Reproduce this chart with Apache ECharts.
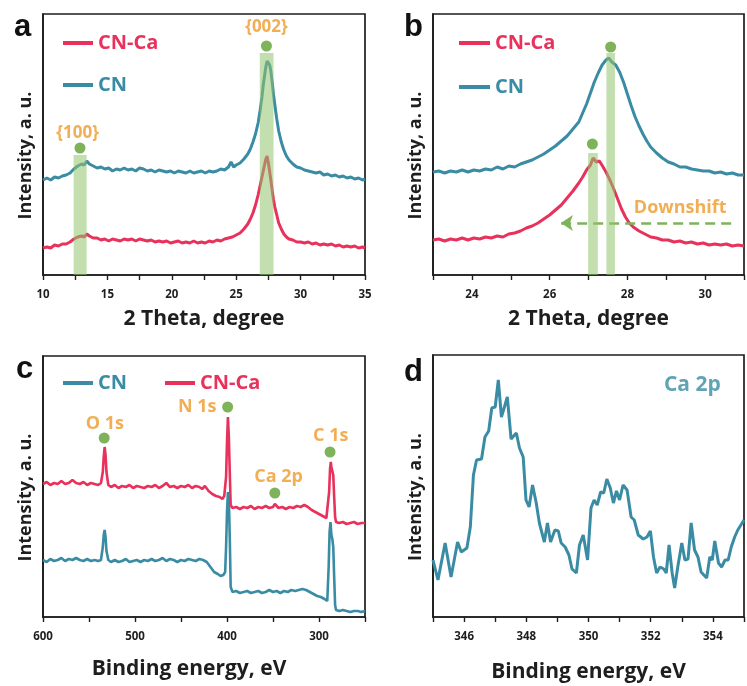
<!DOCTYPE html>
<html><head><meta charset="utf-8">
<script src="https://cdn.jsdelivr.net/npm/echarts@6/dist/echarts.min.js"></script>
<style>html,body{margin:0;padding:0;background:#fff}#c{width:747px;height:686px}</style>
</head><body><div id="c"></div>
<script>
// ---------- DATA ----------
// Panel a: XRD, 2 Theta (degree) vs intensity (a.u.)
const aCN = [[10.0,95],[10.3,97],[10.6,95],[10.9,98],[11.2,97],[11.5,99],[11.8,100],[12.1,102],[12.4,106],[12.7,109],[13.0,111],[13.2,110],[13.4,114],[13.6,111],[13.9,109],[14.2,107],[14.5,108],[14.8,106],[15.1,107],[15.4,104],[15.7,106],[16.0,105],[16.3,107],[16.6,105],[16.9,106],[17.2,104],[17.5,107],[17.8,106],[18.1,104],[18.4,105],[18.7,103],[19.0,105],[19.3,104],[19.6,103],[19.9,104],[20.2,102],[20.5,104],[20.8,103],[21.1,102],[21.4,104],[21.7,102],[22.0,103],[22.3,104],[22.6,102],[22.9,104],[23.2,103],[23.5,104],[23.8,106],[24.1,105],[24.4,108],[24.6,113],[24.8,108],[25.0,110],[25.3,112],[25.6,116],[25.9,121],[26.1,126],[26.3,133],[26.5,141],[26.7,152],[26.85,164],[27.0,178],[27.1,190],[27.2,199],[27.3,208],[27.4,214],[27.5,215],[27.6,210],[27.7,203],[27.8,192],[27.9,180],[28.0,170],[28.15,156],[28.3,144],[28.5,133],[28.7,125],[28.9,119],[29.1,115],[29.4,111],[29.7,108],[30.0,107],[30.3,105],[30.6,104],[30.9,103],[31.2,102],[31.5,103],[31.8,100],[32.1,101],[32.4,99],[32.7,100],[33.0,98],[33.3,99],[33.6,97],[33.9,98],[34.2,96],[34.5,97],[34.8,95],[35.0,96]];
const aCNCa = [[10.0,27],[10.3,28],[10.6,27],[10.9,30],[11.2,29],[11.5,31],[11.8,31],[12.1,33],[12.4,36],[12.7,38],[13.0,39],[13.2,38],[13.4,41],[13.6,39],[13.9,37],[14.2,37],[14.5,35],[14.8,36],[15.1,34],[15.4,36],[15.7,35],[16.0,34],[16.3,36],[16.6,35],[16.9,36],[17.2,34],[17.5,36],[17.8,35],[18.1,34],[18.4,35],[18.7,33],[19.0,34],[19.3,33],[19.6,34],[19.9,32],[20.2,33],[20.5,34],[20.8,32],[21.1,33],[21.4,32],[21.7,34],[22.0,32],[22.3,33],[22.6,32],[22.9,34],[23.2,33],[23.5,35],[23.8,34],[24.1,36],[24.4,37],[24.7,38],[25.0,40],[25.3,42],[25.6,46],[25.9,51],[26.1,56],[26.3,62],[26.5,70],[26.7,80],[26.85,89],[27.0,98],[27.1,104],[27.2,110],[27.3,116],[27.4,119],[27.5,112],[27.6,103],[27.7,94],[27.8,84],[27.9,75],[28.0,68],[28.15,60],[28.3,52],[28.5,46],[28.7,41],[28.9,38],[29.1,36],[29.4,35],[29.7,33],[30.0,33],[30.3,32],[30.6,33],[30.9,31],[31.2,32],[31.5,30],[31.8,31],[32.1,30],[32.4,31],[32.7,29],[33.0,30],[33.3,28],[33.6,29],[33.9,28],[34.2,29],[34.5,27],[34.8,28],[35.0,27]];
const aPeakDots = [[12.87,127],[27.35,229]];
const aBands = [[12.38,13.39,120],[26.83,27.9,222]];
const aLabels = [['{100}',12.69,142],['{002}',27.35,248]];

// Panel b: zoom of the (002) peak
const bCN = [[23.0,103],[23.15,104],[23.3,102],[23.45,104],[23.6,103],[23.75,105],[23.9,103],[24.05,105],[24.2,104],[24.35,106],[24.5,105],[24.65,108],[24.8,106],[24.95,109],[25.1,108],[25.25,111],[25.4,113],[25.55,115],[25.7,118],[25.85,121],[26.0,125],[26.15,129],[26.3,134],[26.45,139],[26.6,146],[26.75,153],[26.85,162],[26.95,171],[27.05,182],[27.15,193],[27.25,202],[27.35,210],[27.45,215],[27.52,217],[27.6,213],[27.7,210],[27.8,203],[27.9,193],[28.0,181],[28.1,169],[28.2,158],[28.3,149],[28.4,141],[28.5,134],[28.6,128],[28.75,122],[28.9,117],[29.05,113],[29.2,111],[29.35,108],[29.5,108],[29.65,106],[29.8,105],[29.95,104],[30.1,104],[30.25,102],[30.4,103],[30.55,101],[30.7,102],[30.85,100],[31.0,100]];
const bCNCa = [[23.0,35],[23.15,36],[23.3,34],[23.45,36],[23.6,35],[23.75,37],[23.9,35],[24.05,37],[24.2,36],[24.35,38],[24.5,37],[24.65,39],[24.8,38],[24.95,41],[25.1,42],[25.25,44],[25.4,47],[25.55,49],[25.7,52],[25.85,56],[26.0,60],[26.15,65],[26.3,70],[26.45,77],[26.6,84],[26.75,92],[26.85,98],[26.95,105],[27.05,110],[27.12,117],[27.2,113],[27.28,114],[27.36,109],[27.45,103],[27.55,95],[27.65,86],[27.75,76],[27.85,66],[27.95,58],[28.05,52],[28.15,48],[28.3,44],[28.45,41],[28.6,38],[28.75,37],[28.9,35],[29.05,35],[29.2,33],[29.35,34],[29.5,32],[29.65,33],[29.8,31],[29.95,32],[30.1,30],[30.25,31],[30.4,30],[30.55,31],[30.7,29],[30.85,30],[31.0,29]];
const bPeakDots = [[27.1,131],[27.57,228]];
const bBands = [[26.99,27.24,122],[27.46,27.68,222]];
const bArrow = [[30.67,52],[26.29,52]];
const bLabels = [['Downshift',29.36,67]];

// Panel c: XPS survey, binding energy (eV)
const cCN = [[600,57],[596,55],[592,58],[588,56],[584,57],[580,59],[576,56],[572,58],[568,57],[564,59],[560,57],[556,56],[552,58],[548,56],[544,57],[540,56],[537,57],[535,70],[534,82],[533,87],[532,80],[531,66],[529,57],[526,55],[522,57],[518,55],[514,56],[510,58],[506,55],[502,56],[498,57],[494,55],[490,57],[486,56],[482,58],[478,56],[474,57],[470,59],[466,56],[462,58],[458,57],[454,55],[450,57],[446,56],[442,58],[438,57],[434,56],[430,58],[426,57],[422,55],[418,50],[414,45],[410,43],[407,41],[404,42],[402,45],[401,70],[400,105],[399,125],[398,118],[397,80],[396,30],[394,25],[390,26],[386,24],[382,25],[378,26],[374,24],[370,25],[366,26],[362,24],[358,25],[354,27],[350,25],[346,26],[342,24],[338,26],[334,25],[330,27],[326,26],[322,27],[318,28],[314,27],[310,25],[306,23],[302,21],[298,20],[294,18],[291,16],[289.5,50],[288.5,85],[287.5,95],[286.5,82],[285.5,78],[284.5,70],[283.5,40],[282.5,12],[281.5,7],[278,6],[274,7],[270,6],[266,5],[262,6],[258,6],[254,5],[250,6]];
const cCNCa = [[600,133],[596,135],[592,132],[588,134],[584,133],[580,136],[576,133],[572,134],[568,137],[564,134],[560,133],[556,135],[552,132],[548,134],[544,133],[540,132],[537,134],[535,145],[534,160],[533,170],[532,162],[531,145],[529,132],[526,130],[522,132],[518,129],[514,131],[510,130],[506,132],[502,129],[498,131],[494,130],[490,129],[486,131],[482,130],[478,132],[474,129],[470,131],[466,134],[462,130],[458,131],[454,129],[450,131],[446,130],[442,132],[438,129],[434,131],[430,130],[427,128],[424,131],[420,126],[416,123],[412,121],[408,120],[405,118],[403,121],[401,140],[400,175],[399,200],[398,180],[397,145],[396,112],[394,109],[390,110],[386,108],[382,110],[378,109],[374,111],[370,108],[366,110],[362,109],[358,111],[354,109],[350,110],[348,113],[346,111],[344,109],[340,110],[336,108],[332,110],[328,109],[324,111],[320,110],[316,112],[312,110],[308,107],[304,105],[300,103],[296,101],[292,99],[290,100],[289,125],[288,148],[287.2,155],[286.5,150],[285.5,151],[284.5,142],[283.5,120],[282.5,100],[281.5,95],[278,94],[274,95],[270,93],[266,94],[262,95],[258,93],[254,94],[250,94]];
const cPeakDots = [[533.5,179],[399.3,210],[348,124],[288,165]];
const cLabels = [['O 1s',532.7,193],['N 1s',432.3,210],['Ca 2p',344,140],['C 1s',287.3,181]];

// Panel d: Ca 2p high resolution
const dCaCN = [[345.0,57],[345.16,37],[345.39,74],[345.58,40],[345.79,75],[345.91,65],[346.09,69],[346.2,90],[346.3,142],[346.4,157],[346.56,158],[346.67,180],[346.79,186],[346.89,209],[347.0,210],[347.1,237],[347.2,200],[347.39,220],[347.51,178],[347.68,184],[347.78,169],[347.9,160],[347.99,117],[348.09,110],[348.2,132],[348.32,114],[348.42,94],[348.58,75],[348.68,94],[348.78,75],[348.92,87],[349.03,86],[349.12,74],[349.25,70],[349.37,62],[349.47,48],[349.61,44],[349.71,72],[349.83,82],[349.97,57],[350.08,109],[350.18,117],[350.28,112],[350.39,125],[350.49,124],[350.59,138],[350.7,129],[350.8,114],[350.9,126],[351.0,117],[351.11,132],[351.24,127],[351.37,100],[351.47,97],[351.6,82],[351.76,78],[351.88,80],[351.99,86],[352.09,60],[352.19,44],[352.3,50],[352.42,48],[352.5,44],[352.59,72],[352.69,44],[352.77,29],[352.87,50],[353.0,74],[353.1,57],[353.2,58],[353.3,94],[353.41,67],[353.52,60],[353.62,45],[353.8,39],[353.9,60],[353.98,57],[354.06,76],[354.18,54],[354.28,50],[354.39,57],[354.49,57],[354.59,70],[354.7,80],[354.8,87],[355.0,97]];
const dLabels = [['Ca 2p',353.34,232]];

// ---------- STYLE ----------
const RED = '#e8325c', TEAL = '#3a8ca4', ORANGE = '#ef9a2a', GREEN = '#7fb35a', BAND = 'rgba(146,196,110,0.55)';
const FONT = 'Open Sans', INK = '#1e1e1e';

const grids = [
  {left:43, top:14, width:322, height:261},
  {left:433, top:14, width:320, height:261},
  {left:43, top:356, width:322, height:261},
  {left:433, top:355, width:322.5, height:262}
].map(g => Object.assign({show:true, borderColor:INK, borderWidth:1.7, backgroundColor:'transparent'}, g));

function xAxis(gi, min, max, interval, labelStep, name, nameGap, inverse, namePad) {
  return {
    type:'value', gridIndex:gi, min, max, interval, inverse: !!inverse,
    axisLine:{show:true, onZero:false, lineStyle:{color:INK, width:1.7}},
    axisTick:{show:true, inside:false, length:5, lineStyle:{color:INK, width:1.4}},
    splitLine:{show:false},
    axisLabel:{margin:14, color:INK, fontFamily:FONT, fontWeight:'bold', fontSize:11.5,
      formatter: v => (Math.abs(v/labelStep - Math.round(v/labelStep)) < 1e-6 ? String(v) : '')},
    name, nameLocation:'middle', nameGap,
    nameTextStyle:{color:INK, fontFamily:FONT, fontWeight:'bold', fontSize:21, padding: namePad || 0}
  };
}
function yAxis(gi, max) {
  return {
    type:'value', gridIndex:gi, min:0, max,
    axisLine:{show:true, lineStyle:{color:INK, width:1.7}},
    axisTick:{show:false}, axisLabel:{show:false}, splitLine:{show:false},
    name:'Intensity, a. u.', nameLocation:'middle', nameGap:8,
    nameTextStyle:{color:INK, fontFamily:FONT, fontWeight:'bold', fontSize:18, padding:[0,22,0,0]}
  };
}
function curve(name, data, gi, color, width, z) {
  return {type:'line', name, data, xAxisIndex:gi, yAxisIndex:gi, showSymbol:false, symbol:'none',
    lineStyle:{color, width}, itemStyle:{color}, silent:true, z:z||2, animation:false};
}
function dotsSeries(gi, dots, arrow) {
  const s = {type:'scatter', name:'peak'+gi, data:dots, xAxisIndex:gi, yAxisIndex:gi,
    symbolSize:11, itemStyle:{color:GREEN, opacity:1}, silent:true, z:5, animation:false};
  if (arrow) s.markLine = {silent:true, symbol:['none','arrow'], symbolSize:[12,12],
    label:{show:false}, lineStyle:{color:GREEN, width:2.6, type:[10,6]},
    data:[[{coord:arrow[0]},{coord:arrow[1]}]]};
  return s;
}
function bandSeries(gi, bands) {
  return {type:'custom', name:'band'+gi, xAxisIndex:gi, yAxisIndex:gi, data:bands, silent:true,
    z:10, animation:false, encode:{x:[0,1], y:2},
    renderItem:(params, api) => {
      const p0 = api.coord([api.value(0), 0]);
      const p1 = api.coord([api.value(1), api.value(2)]);
      return {type:'rect', shape:{x:p0[0], y:p1[1], width:p1[0]-p0[0], height:p0[1]-p1[1]},
        style:{fill:BAND}};
    }};
}
function labels(gi, list, color, size) {
  return {type:'scatter', name:'lab'+gi, xAxisIndex:gi, yAxisIndex:gi, symbolSize:1,
    itemStyle:{color:'rgba(0,0,0,0)'}, silent:true, z:6, animation:false,
    data: list.map(l => ({name:l[0], value:[l[1], l[2]]})),
    label:{show:true, position:'inside', formatter: p => p.name, color, fontFamily:FONT,
      fontWeight:'bold', fontSize:size}};
}
const legendText = {fontFamily:FONT, fontWeight:'bold', fontSize:20, lineHeight:24};
const letter = (t, left, top) => ({text:t, left, top, padding:0,
  textStyle:{fontFamily:'Liberation Sans', fontWeight:'bold', fontSize:31, color:'#111'}});

const option = {
  animation:false,
  backgroundColor:'#fff',
  title:[letter('a',14,12), letter('b',404,12), letter('c',16,354), letter('d',404,357)],
  grid: grids,
  xAxis:[
    xAxis(0, 10, 35, 2.5, 5, '2 Theta, degree', 34),
    xAxis(1, 23, 31, 1, 2, '2 Theta, degree', 34),
    xAxis(2, 250, 600, 50, 100, 'Binding energy, eV', 42, true, [0,30,0,0]),
    xAxis(3, 345, 355, 1, 2, 'Binding energy, eV', 45)
  ],
  yAxis:[yAxis(0,261), yAxis(1,261), yAxis(2,261), yAxis(3,262)],
  legend:[
    {left:58, top:26, orient:'vertical', icon:'rect', itemWidth:30, itemHeight:4, itemGap:18,
      textStyle:legendText, selectedMode:false,
      data:[{name:'CN-Ca', textStyle:{color:RED}}, {name:'CN', textStyle:{color:TEAL}}]},
    {left:454, top:26, orient:'vertical', icon:'rect', itemWidth:31, itemHeight:4, itemGap:20,
      textStyle:legendText, selectedMode:false,
      data:[{name:'CN-Ca', textStyle:{color:RED}}, {name:'CN', textStyle:{color:TEAL}}]},
    {left:58, top:366, orient:'horizontal', icon:'rect', itemWidth:30, itemHeight:4, itemGap:38,
      textStyle:legendText, selectedMode:false,
      data:[{name:'CN', textStyle:{color:TEAL}}, {name:'CN-Ca', textStyle:{color:RED}}]}
  ],
  series:[
    curve('CN', aCN, 0, TEAL, 3),
    curve('CN-Ca', aCNCa, 0, RED, 3),
    bandSeries(0, aBands),
    dotsSeries(0, aPeakDots),
    labels(0, aLabels, ORANGE, 17),
    curve('CN', bCN, 1, TEAL, 3),
    curve('CN-Ca', bCNCa, 1, RED, 3),
    bandSeries(1, bBands),
    dotsSeries(1, bPeakDots, bArrow),
    labels(1, bLabels, ORANGE, 18),
    curve('CN', cCN, 2, TEAL, 2.6, 2),
    curve('CN-Ca', cCNCa, 2, RED, 2.6, 3),
    dotsSeries(2, cPeakDots),
    labels(2, cLabels, ORANGE, 18),
    curve('CN', dCaCN, 3, TEAL, 3),
    labels(3, dLabels, TEAL, 21)
  ]
};
const chart = echarts.init(document.getElementById('c'), null, {renderer:'canvas'});
chart.setOption(option);
</script></body></html>
